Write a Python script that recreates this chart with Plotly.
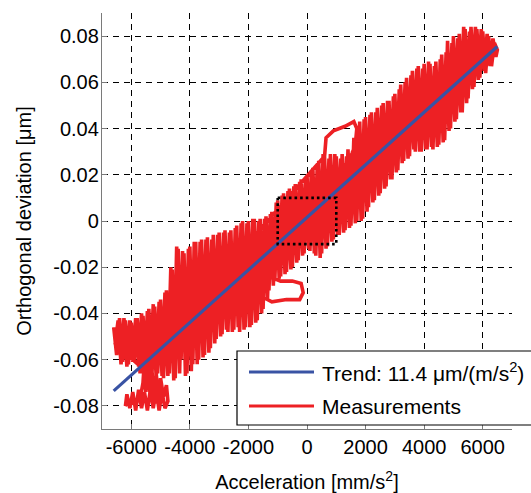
import plotly.graph_objects as go

# ---------------- data ----------------
# trend line end points
trend_x = [-6600, 6500]
trend_y = [-0.0735, 0.0755]

# measurement trace, read as a scribble: forward sweep, backward sweep, bottom blob, two loops
fwd_x = [-6600, -6500, -6400, -6300, -6200, -6100, -6000, -5900, -5800, -5700, -5600, -5500, -5400, -5300,
         -5200, -5100, -5000, -4900, -4800, -4700, -4600, -4500, -4400, -4300, -4200, -4100, -4000, -3900,
         -3800, -3700, -3600, -3500, -3400, -3300, -3200, -3100, -3000, -2900, -2800, -2700, -2600, -2500,
         -2400, -2300, -2200, -2100, -2000, -1900, -1800, -1700, -1600, -1500, -1400, -1300, -1200, -1100,
         -1000, -900, -800, -700, -600, -500, -400, -300, -200, -100, 0, 100, 200, 300, 400, 500, 600, 700,
         800, 900, 1000, 1100, 1200, 1300, 1400, 1500, 1600, 1700, 1800, 1900, 2000, 2100, 2200, 2300, 2400,
         2500, 2600, 2700, 2800, 2900, 3000, 3100, 3200, 3300, 3400, 3500, 3600, 3700, 3800, 3900, 4000,
         4100, 4200, 4300, 4400, 4500, 4600, 4700, 4800, 4900, 5000, 5100, 5200, 5300, 5400, 5500, 5600,
         5700, 5800, 5900, 6000, 6100, 6200, 6300, 6400, 6500]
fwd_y = [-0.046, -0.058, -0.042, -0.061, -0.043, -0.062, -0.044, -0.060, -0.042, -0.066, -0.041, -0.063, -0.038, -0.068,
         -0.037, -0.066, -0.034, -0.068, -0.030, -0.066, -0.021, -0.068, -0.012, -0.060, -0.014, -0.066, -0.011, -0.062,
         -0.009, -0.060, -0.008, -0.058, -0.007, -0.055, -0.006, -0.051, -0.005, -0.049, -0.004, -0.048, -0.004, -0.047,
         -0.002, -0.048, 0.000, -0.046, 0.000, -0.045, 0.001, -0.043, 0.001, -0.038, 0.002, -0.030, 0.004, -0.026,
         0.009, -0.024, 0.012, -0.022, 0.014, -0.020, 0.016, -0.017, 0.018, -0.014, 0.020, -0.013, 0.023, -0.015, 0.026, -0.014, 0.028, -0.011,
         0.029, -0.008, 0.028, -0.006, 0.029, -0.004, 0.031, -0.002, 0.036, 0.000, 0.043, 0.001, 0.045, 0.006, 0.047, 0.009, 0.049,
         0.012, 0.051, 0.015, 0.052, 0.018, 0.055, 0.022, 0.059, 0.026, 0.062, 0.028, 0.065, 0.030, 0.067, 0.030, 0.068,
         0.031, 0.068, 0.031, 0.069, 0.033, 0.072, 0.035, 0.078, 0.040, 0.080, 0.044, 0.081, 0.047, 0.083, 0.053, 0.084,
         0.058, 0.083, 0.062, 0.082, 0.064, 0.080, 0.067, 0.077, 0.074]

back_x = [6450, 6350, 6250, 6150, 6050, 5950, 5850, 5750, 5650, 5550, 5450, 5350, 5250, 5150, 5050, 4950,
          4850, 4750, 4650, 4550, 4450, 4350, 4250, 4150, 4050, 3950, 3850, 3750, 3650, 3550, 3450, 3350,
          3250, 3150, 3050, 2950, 2850, 2750, 2650, 2550, 2450, 2350, 2250, 2150, 2050, 1950, 1850, 1750,
          1650, 1550, 1450, 1350, 1250, 1150, 1050, 950, 850, 750, 650, 550, 450, 350, 250, 150, 50, -50,
          -150, -250, -350, -450, -550, -650, -750, -850, -950, -1050, -1150, -1250, -1350, -1450, -1550,
          -1650, -1750, -1850, -1950, -2050, -2150, -2250, -2350, -2450, -2550, -2650, -2750, -2850, -2950,
          -3050, -3150, -3250, -3350, -3450, -3550, -3650, -3750, -3850, -3950, -4050, -4150, -4250, -4350,
          -4450, -4550, -4650, -4750, -4850, -4950, -5050, -5150, -5250, -5350, -5450, -5550, -5650, -5750,
          -5850, -5950, -6050, -6150, -6250, -6350, -6450, -6550]
back_y = [0.071, 0.079, 0.067, 0.081, 0.065, 0.083, 0.061, 0.084, 0.057, 0.082, 0.051, 0.084, 0.047, 0.079, 0.043, 0.077,
          0.039, 0.073, 0.034, 0.070, 0.032, 0.067, 0.032, 0.069, 0.031, 0.066, 0.030, 0.066, 0.031, 0.063, 0.027, 0.060,
          0.025, 0.057, 0.021, 0.054, 0.018, 0.052, 0.014, 0.050, 0.011, 0.047, 0.008, 0.046, 0.004, 0.044, 0.000, 0.040,
          -0.001, 0.030, -0.003, 0.028, -0.005, 0.027, -0.006, 0.029, -0.009, 0.027, -0.012, 0.029, -0.016, 0.024, -0.014, 0.022, -0.012, 0.019,
          -0.015, 0.017, -0.018, 0.015, -0.021, 0.013, -0.023, 0.011, -0.025, 0.008, -0.028, 0.003, -0.034, 0.001, -0.040,
          0.000, -0.044, 0.001, -0.046, -0.001, -0.047, -0.001, -0.046, -0.003, -0.048, -0.005, -0.047, -0.005, -0.050,
          -0.006, -0.053, -0.008, -0.057, -0.008, -0.059, -0.009, -0.062, -0.009, -0.065, -0.012, -0.067, -0.013, -0.066,
          -0.011, -0.069, -0.020, -0.067, -0.031, -0.067, -0.035, -0.068, -0.036, -0.065, -0.039, -0.066, -0.040, -0.063,
          -0.042, -0.061, -0.043, -0.063, -0.042, -0.062, -0.043, -0.053]

blob_x = [-5600, -5500, -5450, -5350, -5300, -5200, -5150, -5050, -5000, -4900, -4800, -4750, -4850, -4950,
          -5050, -5150, -5250, -5350, -5450, -5550, -5650, -5750, -5850, -5950, -6050, -6150, -6200, -6100,
          -5900, -5700, -5600, -5550, -5450, -5400]
blob_y = [-0.064, -0.074, -0.062, -0.076, -0.064, -0.079, -0.066, -0.078, -0.068, -0.076, -0.071, -0.078, -0.081, -0.074,
          -0.082, -0.073, -0.081, -0.073, -0.082, -0.074, -0.081, -0.073, -0.082, -0.074, -0.081, -0.075, -0.080, -0.078,
          -0.079, -0.077, -0.070, -0.060, -0.070, -0.058]

loop_top_x = [600, 650, 900, 1300, 1600, 1700, 1650, 1500]
loop_top_y = [0.028, 0.036, 0.039, 0.041, 0.043, 0.040, 0.033, 0.028]

loop_low_x = [-1300, -900, -500, -200, -130, -250, -700, -1200, -1500]
loop_low_y = [-0.024, -0.026, -0.026, -0.027, -0.031, -0.034, -0.034, -0.035, -0.033]

meas_x = fwd_x + back_x + blob_x + loop_top_x + loop_low_x
meas_y = fwd_y + back_y + blob_y + loop_top_y + loop_low_y

# zoom-box outline
box_x = [-1000, 1000, 1000, -1000, -1000]
box_y = [0.01, 0.01, -0.01, -0.01, 0.01]

# ticks
x_ticks = [-6000, -4000, -2000, 0, 2000, 4000, 6000]
x_tick_text = ["-6000", "-4000", "-2000", "0", "2000", "4000", "6000"]
y_ticks = [-0.08, -0.06, -0.04, -0.02, 0, 0.02, 0.04, 0.06, 0.08]
y_tick_text = ["-0.08", "-0.06", "-0.04", "-0.02", "0", "0.02", "0.04", "0.06", "0.08"]

legend_labels = ["Trend: 11.4 \u03bcm/(m/s<sup>2</sup>)", "Measurements"]

RED = "#ED2024"
BLUE = "#3953A4"
FONT = "Liberation Sans, Arial, sans-serif"

fig = go.Figure()
fig.add_trace(go.Scatter(x=meas_x, y=meas_y, mode="lines",
                         line=dict(color=RED, width=3.6), showlegend=False, hoverinfo="skip"))
fig.add_trace(go.Scatter(x=trend_x, y=trend_y, mode="lines",
                         line=dict(color=BLUE, width=3.2), showlegend=False, hoverinfo="skip"))
fig.add_trace(go.Scatter(x=box_x, y=box_y, mode="lines",
                         line=dict(color="black", width=2.6, dash="2.6px,3px"),
                         showlegend=False, hoverinfo="skip"))

axis_common = dict(
    showline=True, linecolor="#7a7a7a", linewidth=1.3, mirror=False,
    ticks="inside", ticklen=5, tickcolor="#7a7a7a", tickwidth=1,
    showgrid=True, gridcolor="black", gridwidth=1, griddash="6px,5px",
    zeroline=False, automargin=False,
    tickfont=dict(family=FONT, size=20, color="black"),
    title_font=dict(family=FONT, size=20, color="black"),
)

fig.update_xaxes(range=[-7000, 7000], tickmode="array", tickvals=x_ticks, ticktext=x_tick_text,
                 title_text="Acceleration [mm/s<sup>2</sup>]", title_standoff=19,
                 ticklabelstandoff=0, **axis_common)
fig.update_yaxes(range=[-0.09, 0.09], tickmode="array", tickvals=y_ticks, ticktext=y_tick_text,
                 title_text="Orthogonal deviation [\u03bcm]", title_standoff=16,
                 ticklabelstandoff=-2, **axis_common)

# manual legend (paper coordinates)
L, T = 102, 13
PW, PH = 410, 416
def px(xp):
    return (xp - L) / PW
def py(yp):
    return (T + PH - yp) / PH

shapes = [
    dict(type="rect", xref="paper", yref="paper", x0=px(237), x1=px(545), y0=py(425), y1=py(351),
         fillcolor="white", line=dict(color="black", width=1.2), layer="above"),
    dict(type="line", xref="paper", yref="paper", x0=px(249), x1=px(314), y0=py(372), y1=py(372),
         line=dict(color=BLUE, width=3.2), layer="above"),
    dict(type="line", xref="paper", yref="paper", x0=px(249), x1=px(314), y0=py(406), y1=py(406),
         line=dict(color=RED, width=3.2), layer="above"),
]
annotations = [
    dict(xref="paper", yref="paper", x=px(320), y=py(372), text=legend_labels[0], showarrow=False,
         xanchor="left", yanchor="middle", font=dict(family=FONT, size=21, color="black")),
    dict(xref="paper", yref="paper", x=px(320), y=py(406), text=legend_labels[1], showarrow=False,
         xanchor="left", yanchor="middle", font=dict(family=FONT, size=21, color="black")),
]

fig.update_layout(
    width=531, height=493, autosize=False,
    margin=dict(l=L, r=531 - L - PW, t=T, b=493 - T - PH),
    paper_bgcolor="white", plot_bgcolor="white",
    shapes=shapes, annotations=annotations, showlegend=False,
    font=dict(family=FONT, size=20, color="black"),
)

fig.write_html("out.html", config={"displayModeBar": False},
               post_script="document.body.style.margin='0';document.body.style.overflow='hidden';")
